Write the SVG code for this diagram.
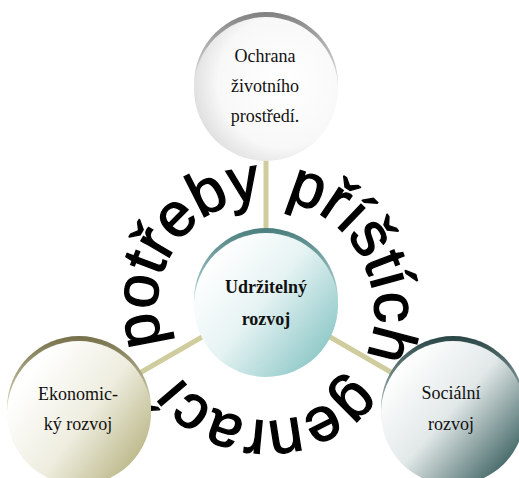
<svg xmlns="http://www.w3.org/2000/svg" width="519" height="478" viewBox="0 0 519 478">
<style>
.lbl{font-family:"Liberation Serif","Times New Roman",serif;font-size:18px;fill:#111;text-anchor:middle}
.bold{font-weight:bold}
.conn{stroke:#cfcc9e;stroke-width:5;fill:none}
.arc{font-family:"Liberation Sans",Arial,sans-serif;font-size:62px;letter-spacing:-0.5px;word-spacing:7px;fill:#000;stroke:#000;stroke-width:1.3px}
</style>
<defs>
<linearGradient id="rimGray" x1="0" y1="0" x2="0" y2="1"><stop offset="0" stop-color="#808080"/><stop offset="0.5" stop-color="#e6e6e6"/></linearGradient>
<linearGradient id="rimTeal" x1="0" y1="0" x2="0" y2="1"><stop offset="0" stop-color="#4a7d7d"/><stop offset="0.5" stop-color="#b8dada"/></linearGradient>
<linearGradient id="rimOlive" x1="0" y1="0" x2="0" y2="1"><stop offset="0" stop-color="#75704a"/><stop offset="0.5" stop-color="#d8d6b8"/></linearGradient>
<linearGradient id="rimSlate" x1="0" y1="0" x2="0" y2="1"><stop offset="0" stop-color="#284444"/><stop offset="0.5" stop-color="#a8baba"/></linearGradient>
<radialGradient id="fillGray" cx="0.62" cy="0.45" r="0.7"><stop offset="0" stop-color="#ffffff"/><stop offset="0.65" stop-color="#f8f8f8"/><stop offset="1" stop-color="#d6d6d6"/></radialGradient>
<linearGradient id="fillTeal" x1="0.1" y1="0.2" x2="0.9" y2="0.85"><stop offset="0" stop-color="#ffffff"/><stop offset="0.45" stop-color="#e6f3f3"/><stop offset="1" stop-color="#8fc8c8"/></linearGradient>
<linearGradient id="fillOlive" x1="0.1" y1="0.3" x2="0.9" y2="0.9"><stop offset="0" stop-color="#ffffff"/><stop offset="0.5" stop-color="#eeeddf"/><stop offset="1" stop-color="#b9b585"/></linearGradient>
<linearGradient id="fillSlate" x1="0.1" y1="0.2" x2="0.9" y2="0.9"><stop offset="0" stop-color="#ffffff"/><stop offset="0.45" stop-color="#e2e8e8"/><stop offset="1" stop-color="#3a5f5f"/></linearGradient>
<path id="textArc" d="M 163.5,343.9 A 108 108 0 1 1 368.5,276.1 A 108 108 0 1 1 163.5,343.9"/>
</defs>
<g id="connectors">
<line class="conn" x1="266" y1="300" x2="266" y2="84"/>
<line class="conn" x1="266" y1="300" x2="79" y2="408"/>
<line class="conn" x1="266" y1="300" x2="453" y2="408"/>
</g>
<g id="arc-text">
<text class="arc"><textPath href="#textArc">potřeby příštích genrací</textPath></text>
</g>
<g id="node-top">
<circle cx="266" cy="84" r="72" fill="url(#rimGray)"/>
<circle cx="266" cy="89" r="72" fill="url(#fillGray)"/>
<text class="lbl" x="265" y="62">Ochrana</text>
<text class="lbl" x="265" y="92">životního</text>
<text class="lbl" x="265" y="122">prostředí.</text>
</g>
<g id="node-center">
<circle cx="266" cy="300" r="72" fill="url(#rimTeal)"/>
<circle cx="266" cy="305" r="72" fill="url(#fillTeal)"/>
<text class="lbl bold" x="266" y="293">Udržitelný</text>
<text class="lbl bold" x="266" y="325">rozvoj</text>
</g>
<g id="node-left">
<circle cx="79" cy="408" r="72" fill="url(#rimOlive)"/>
<circle cx="79" cy="413" r="72" fill="url(#fillOlive)"/>
<text class="lbl" x="78" y="400">Ekonomic-</text>
<text class="lbl" x="78" y="430">ký rozvoj</text>
</g>
<g id="node-right">
<circle cx="453" cy="408" r="72" fill="url(#rimSlate)"/>
<circle cx="453" cy="413" r="72" fill="url(#fillSlate)"/>
<text class="lbl" x="451" y="399">Sociální</text>
<text class="lbl" x="451" y="430">rozvoj</text>
</g>
</svg>
